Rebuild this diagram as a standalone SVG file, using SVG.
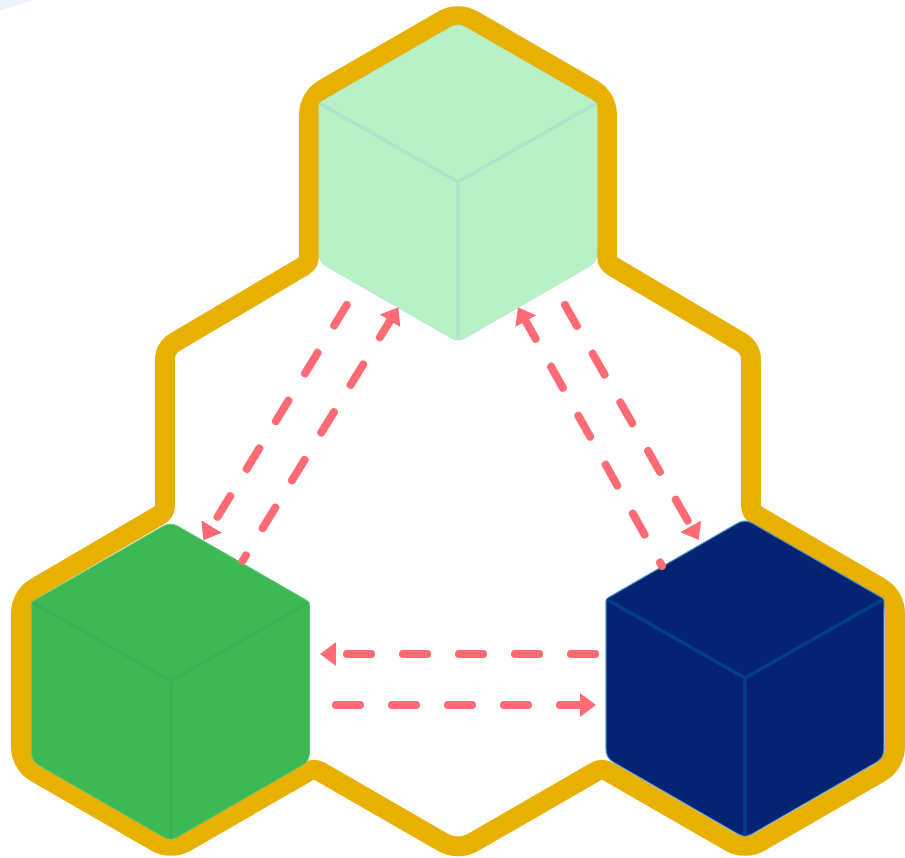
<svg xmlns="http://www.w3.org/2000/svg" xmlns:xlink="http://www.w3.org/1999/xlink" width="905" height="858" viewBox="0 0 905 858">
<style>
.hull{fill:none;stroke:#E8B000;stroke-width:20;stroke-linejoin:round}
.edges{fill:none;stroke-width:3.5}
.flow{fill:none;stroke:#FF6B75;stroke-width:8;stroke-linecap:round;stroke-dasharray:24 32}
.mint .body{fill:#B8F1C6;stroke:#B0EBCB;stroke-width:1}
.mint .edges{stroke:#ABE5CB}
.green .body{fill:#3CB955;stroke:#5CC472;stroke-width:1}
.green .edges{stroke:#38B254}
.navy .body{fill:#052372;stroke:#4A8FC0;stroke-width:1.2}
.navy .edges{stroke:#003E86}
</style>
<defs>
<filter id="soft" x="0" y="0" width="905" height="858" filterUnits="userSpaceOnUse" color-interpolation-filters="sRGB"><feGaussianBlur stdDeviation="0.6"/></filter>
<marker id="arrow" viewBox="0 0 2 3" refX="0" refY="1.5" markerWidth="2" markerHeight="3" orient="auto" markerUnits="strokeWidth">
<path d="M0,0 L2,1.5 L0,3 Z" fill="#FF6B75"/>
</marker>
<path id="cube-body" d="M-7.5,-154.67 A15,15 0 0 1 7.5,-154.67 L136.5,-80.45 A5,5 0 0 1 139,-76.1 L139,71.34 A15,15 0 0 1 131.5,84.33 L7.5,155.67 A15,15 0 0 1 -7.5,155.67 L-131.5,84.33 A15,15 0 0 1 -139,71.34 L-139,-76.1 A5,5 0 0 1 -136.5,-80.45 Z"/>
<path id="cube-edges" d="M-138,-78.5 L0,0 L138,-78.5 M0,0 L0,158"/>
</defs>
<rect width="905" height="858" fill="#FFFFFF"/>
<g filter="url(#soft)">
<rect width="905" height="858" fill="#FFFFFF"/>
<path d="M0,0 L33,0 Q18,6 0,10 Z" fill="#EEF2FB"/>
<g id="outline">
<path class="hull" d="M443,20.15 A30,30 0 0 1 473,20.15 L592,88.85 A30,30 0 0 1 607,114.8 L607,256.1 A12,12 0 0 0 613,266.5 L741,342.2 A20,20 0 0 1 751,359.5 L751,505.1 A12,12 0 0 0 757,515.5 L880,587.35 A30,30 0 0 1 895,613.3 L895,746.7 A30,30 0 0 1 880,772.65 L760,841.85 A30,30 0 0 1 730,841.85 L608,771.5 A12,12 0 0 0 596,771.5 L473,842.35 A30,30 0 0 1 443,842.35 L320,771.5 A12,12 0 0 0 308,771.5 L186,841.85 A30,30 0 0 1 156,841.85 L36,772.65 A30,30 0 0 1 21,746.7 L21,613.3 A30,30 0 0 1 36,587.35 L159,515.5 A12,12 0 0 0 165,505.1 L165,359.5 A20,20 0 0 1 175,342.2 L303,266.5 A12,12 0 0 0 309,256.1 L309,114.8 A30,30 0 0 1 324,88.85 Z"/>
</g>
<g id="cube-top" class="mint" transform="translate(458,182)">
<use class="body" xlink:href="#cube-body" href="#cube-body"/>
<use class="edges" xlink:href="#cube-edges" href="#cube-edges"/>
</g>
<g id="cube-left" class="green" transform="translate(170.5,681)">
<use class="body" xlink:href="#cube-body" href="#cube-body"/>
<use class="edges" xlink:href="#cube-edges" href="#cube-edges"/>
</g>
<g id="cube-right" class="navy" transform="translate(745,678)">
<use class="body" xlink:href="#cube-body" href="#cube-body"/>
<use class="edges" xlink:href="#cube-edges" href="#cube-edges"/>
</g>
<g id="connectors">
<path class="flow" marker-end="url(#arrow)" d="M346.7,305 L211.7,526.5"/>
<path class="flow" marker-end="url(#arrow)" style="stroke-dashoffset:17.4" d="M242.5,561 L390,320.8"/>
<path class="flow" marker-end="url(#arrow)" d="M565,305 L690.8,526.2"/>
<path class="flow" marker-end="url(#arrow)" style="stroke-dashoffset:20" d="M662,566 L525.8,321.2"/>
<path class="flow" marker-end="url(#arrow)" d="M595,654 L336,654"/>
<path class="flow" marker-end="url(#arrow)" d="M336,705 L580,705"/>
</g>
</g>
</svg>
